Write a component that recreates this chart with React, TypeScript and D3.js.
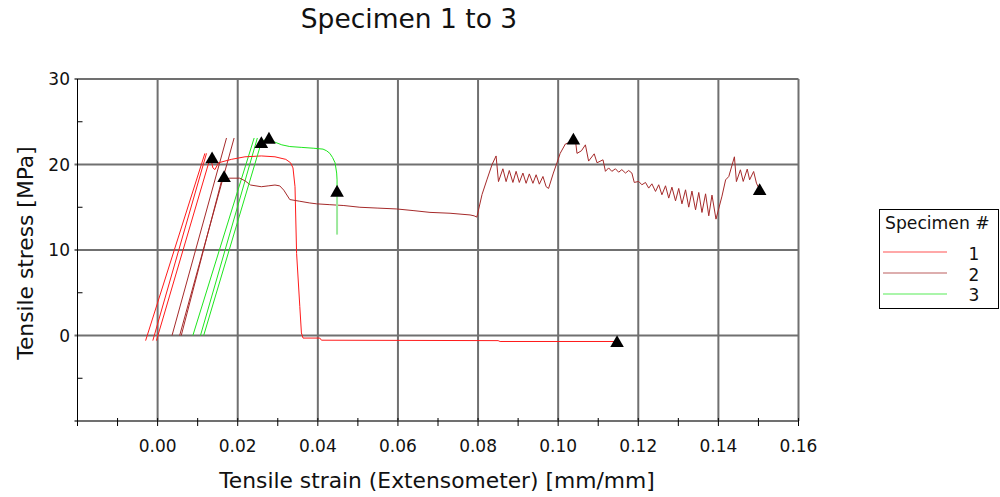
import React from "react";
import * as d3 from "d3";

type P = [number, number];

const chartTitle = "Specimen 1 to 3";
const xTitle = "Tensile strain (Extensometer) [mm/mm]";
const yTitle = "Tensile stress [MPa]";
const legendTitle = "Specimen #";
const seriesNames = ["1", "2", "3"];
const seriesColors = ["#ff1a1a", "#a52a2a", "#1ee61e"];

const xMajorTicks = [-0.02, 0, 0.02, 0.04, 0.06, 0.08, 0.1, 0.12, 0.14, 0.16];
const xLabelTicks = [0, 0.02, 0.04, 0.06, 0.08, 0.1, 0.12, 0.14, 0.16];
const xMinorTicks = [-0.02, -0.01, 0, 0.01, 0.02, 0.03, 0.04, 0.05, 0.06, 0.07, 0.08, 0.09, 0.1, 0.11, 0.12, 0.13, 0.14, 0.15, 0.16];
const yMajorTicks = [-10, 0, 10, 20, 30];
const yLabelTicks = [0, 10, 20, 30];
const yMinorTicks = [-5, 5, 15, 25];

// Specimen 1 (red)
const spec1Curve: P[] = [
  [-0.0003, -0.6], [0.0132, 20.9], [0.0138, 19.6], [0.0143, 19.4], [0.0152, 20.2],
  [0.0184, 20.6], [0.0218, 20.9], [0.0259, 21.0], [0.0293, 20.9], [0.032, 20.6],
  [0.0332, 20.2], [0.0338, 19.6], [0.0343, 17.4], [0.0347, 9.6], [0.0355, 3.4],
  [0.0359, 0.3], [0.0363, -0.3], [0.0405, -0.3], [0.0409, -0.55], [0.085, -0.6],
  [0.0855, -0.7], [0.1147, -0.7],
];
const spec1Lines: P[][] = [
  [[-0.003, -0.6], [0.0118, 21.3]],
  [[-0.0012, -0.6], [0.0122, 21.3]],
];
const spec1Markers: P[] = [[0.0136, 20.6], [0.1147, -0.9]];

// Specimen 2 (dark red)
const spec2Curve: P[] = [
  [0.0059, 0], [0.0163, 18.7], [0.017, 18.3], [0.018, 18.4], [0.0205, 18.4],
  [0.0218, 18.1], [0.0232, 17.6], [0.0259, 17.4], [0.0276, 17.5], [0.0293, 17.6],
  [0.0305, 17.5], [0.0315, 17.0], [0.033, 15.9], [0.0355, 15.7], [0.038, 15.5],
  [0.0397, 15.4], [0.043, 15.3], [0.0465, 15.2], [0.0505, 15.0], [0.055, 14.9],
  [0.0597, 14.8], [0.064, 14.6], [0.068, 14.4], [0.073, 14.3], [0.078, 14.1],
  [0.079, 14.0], [0.0797, 13.85], [0.081, 16.5], [0.0822, 18.2], [0.0835, 20.0],
  [0.0845, 21.0], [0.0851, 18.0],
  [0.0862, 19.5], [0.087, 18.0], [0.0878, 19.3], [0.0887, 17.9], [0.0895, 19.2],
  [0.0903, 17.9], [0.0912, 19.0], [0.092, 17.8], [0.0928, 18.9], [0.0937, 17.8],
  [0.0945, 18.8], [0.0953, 17.7], [0.0962, 18.6], [0.097, 17.4], [0.0976, 17.2],
  [0.0988, 19.0], [0.0997, 20.2], [0.1005, 21.3], [0.1018, 22.4], [0.103, 22.6],
  [0.1038, 23.0], [0.1044, 22.5], [0.1047, 21.3], [0.1058, 21.6], [0.1068, 22.3],
  [0.1076, 20.4], [0.109, 21.25], [0.1097, 20.2], [0.1112, 20.55], [0.1118, 19.2],
  [0.1126, 19.6], [0.1134, 19.2], [0.1143, 19.5], [0.1151, 19.1], [0.1159, 19.4],
  [0.1168, 19.0], [0.1176, 19.3], [0.1184, 19.0], [0.119, 17.9],
  [0.1201, 18.02], [0.1209, 17.63], [0.1218, 17.9], [0.1226, 17.24], [0.1234, 17.74],
  [0.1243, 16.85], [0.1251, 17.63], [0.1259, 16.46], [0.1268, 17.51], [0.1276, 16.07],
  [0.1284, 17.35], [0.1293, 15.75], [0.1301, 17.2], [0.1309, 15.4], [0.1318, 17.04],
  [0.1326, 15.01], [0.1334, 16.89], [0.1343, 14.7], [0.1351, 16.73], [0.1359, 14.39],
  [0.1368, 16.57], [0.1376, 14.0], [0.1384, 16.42], [0.1394, 13.61],
  [0.1409, 16.3], [0.1418, 18.2], [0.1426, 18.6], [0.144, 20.9], [0.1445, 18.0],
  [0.1455, 19.38], [0.1462, 18.02], [0.1472, 19.46], [0.1478, 18.21], [0.1488, 19.18],
  [0.1495, 17.82], [0.1503, 17.04],
];
const spec2Lines: P[][] = [
  [[0.0036, 0], [0.0172, 23.1]],
  [[0.0055, 0], [0.0191, 23.1]],
];
const spec2Markers: P[] = [[0.0166, 18.4], [0.1038, 22.8], [0.1503, 16.9]];

// Specimen 3 (green)
const spec3Curve: P[] = [
  [0.0115, 0], [0.0259, 22.6], [0.0268, 22.9], [0.0278, 23.1], [0.0288, 22.7],
  [0.031, 22.3], [0.033, 22.1], [0.036, 22.0], [0.039, 21.9], [0.0413, 21.8],
  [0.0422, 21.6], [0.043, 21.3], [0.0437, 20.8], [0.0443, 20.2], [0.0447, 19.0],
  [0.0448, 18.2], [0.0448, 16.95],
];
const spec3Tail: P[] = [[0.0448, 16.3], [0.0448, 11.8]];
const spec3Lines: P[][] = [
  [[0.0088, 0], [0.0241, 23.1]],
  [[0.0107, 0], [0.0249, 23.1]],
];
const spec3Markers: P[] = [[0.0259, 22.4], [0.0278, 22.9], [0.0448, 16.7]];

const W = 1000;
const H = 497;
const FONT = "'DejaVu Sans', Verdana, sans-serif";

export default function App() {
  const x = d3.scaleLinear().domain([-0.02, 0.16]).range([77.5, 798.5]);
  const y = d3.scaleLinear().domain([-10, 30]).range([421, 79]);
  const line = d3.line<P>().x((d) => x(d[0])).y((d) => y(d[1]));
  const tri = d3.symbol().type(d3.symbolTriangle).size(80)();
  const fmt = d3.format(".2f");

  const curves = [spec1Curve, spec2Curve, spec3Curve];
  const extraLines = [spec1Lines, spec2Lines, spec3Lines];
  const markers = [...spec1Markers, ...spec2Markers, ...spec3Markers];

  const [x0, x1] = x.range();
  const [yb, yt] = y.range();

  return (
    <svg width={W} height={H} style={{ position: "absolute", left: 0, top: 0, background: "#fff" }}>
      <rect x={0} y={0} width={W} height={H} fill="#fff" />
      <text x={409} y={28} textAnchor="middle" fontFamily={FONT} fontSize={26.5} fill="#111">
        {chartTitle}
      </text>

      {/* grid */}
      <g stroke="#707070" strokeWidth={2}>
        {yMajorTicks.map((t) => (
          <line key={"gy" + t} x1={x0 - 3} x2={x1} y1={y(t)} y2={y(t)} />
        ))}
        {xMajorTicks.filter((t) => t > -0.02).map((t) => (
          <line key={"gx" + t} x1={x(t)} x2={x(t)} y1={yt} y2={yb} />
        ))}
      </g>
      {/* axes */}
      <line x1={x0} x2={x0} y1={yt} y2={yb + 4} stroke="#000" strokeWidth={1} />
      <g stroke="#000" strokeWidth={1}>
        {yMinorTicks.map((t) => (
          <line key={"ym" + t} x1={x0} x2={x0 + 5} y1={y(t)} y2={y(t)} />
        ))}
        {xMinorTicks.map((t) => (
          <line key={"xm" + t} x1={x(t)} x2={x(t)} y1={yb - 3} y2={yb + 5} />
        ))}
      </g>
      <g fontFamily={FONT} fontSize={17} fill="#111">
        {yLabelTicks.map((t) => (
          <text key={"yl" + t} x={70} y={y(t) + 6} textAnchor="end">
            {t}
          </text>
        ))}
        {xLabelTicks.map((t) => (
          <text key={"xl" + t} x={x(t)} y={452} textAnchor="middle">
            {fmt(t)}
          </text>
        ))}
      </g>
      <text x={437} y={488} textAnchor="middle" fontFamily={FONT} fontSize={21.8} fill="#111">
        {xTitle}
      </text>
      <text
        transform={`translate(33,253) rotate(-90)`}
        textAnchor="middle"
        fontFamily={FONT}
        fontSize={21.8}
        fill="#111"
      >
        {yTitle}
      </text>

      {/* data */}
      <g fill="none" strokeWidth={1}>
        {extraLines.map((set, i) =>
          set.map((seg, j) => <path key={`el${i}-${j}`} d={line(seg) || ""} stroke={seriesColors[i]} />)
        )}
        {curves.map((c, i) => (
          <path key={"c" + i} d={line(c) || ""} stroke={seriesColors[i]} />
        ))}
        <path d={line(spec3Tail) || ""} stroke="#9be89b" strokeWidth={2} />
      </g>
      <g fill="#000">
        {markers.map((m, i) => (
          <path key={"m" + i} d={tri || ""} transform={`translate(${x(m[0])},${y(m[1])})`} />
        ))}
      </g>

      {/* legend */}
      <rect x={879.5} y={209.5} width={119} height={99} fill="#fff" stroke="#000" strokeWidth={1} />
      <text x={885} y={229} fontFamily={FONT} fontSize={17.2} fill="#111">
        {legendTitle}
      </text>
      {seriesNames.map((n, i) => (
        <g key={"lg" + i}>
          <line x1={883} x2={947} y1={252 + i * 21} y2={252 + i * 21} stroke={seriesColors[i]} strokeWidth={1.2} opacity={0.75} />
          <text x={974} y={260 + i * 20.5} textAnchor="middle" fontFamily={FONT} fontSize={17} fill="#111">
            {n}
          </text>
        </g>
      ))}
    </svg>
  );
}
